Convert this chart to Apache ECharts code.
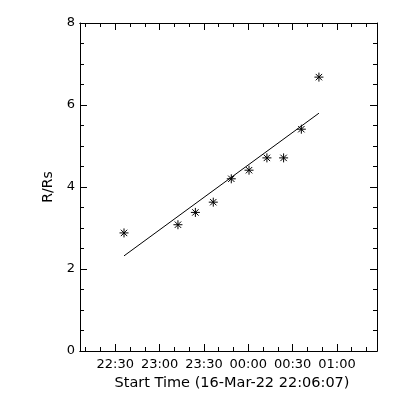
<!DOCTYPE html>
<html><head><meta charset="utf-8">
<script src="https://cdn.jsdelivr.net/npm/echarts@6/dist/echarts.min.js"></script>
<style>html,body{margin:0;padding:0;background:#fff}#c{width:400px;height:400px}</style>
</head><body><div id="c"></div>
<script>
// time in minutes after 22:00 on 16-Mar-22
const obsTimes = [35.9, 72.4, 84.2, 96.3, 108.5, 120.5, 132.6, 143.9, 155.9, 167.8];
const obsHeights = [2.88, 3.08, 3.38, 3.63, 4.20, 4.41, 4.71, 4.71, 5.41, 6.68];
const fitTimes = [35.9, 167.8];
const fitHeights = [2.32, 5.80];
const majorTickTimes = [30, 60, 90, 120, 150, 180];
const minorTickTimes = [10,20,30,40,50,60,70,80,90,100,110,120,130,140,150,160,170,180,190,200];
const xMin = 6.117, xMax = 207.1;
const yTicks = [0, 2, 4, 6, 8];

const font = 'DejaVu Sans';
function fmt(v){
  let tot = Math.round(v);
  let h = (22 + Math.floor(tot/60)) % 24, m = tot % 60;
  return String(h).padStart(2,'0') + ':' + String(m).padStart(2,'0');
}
const chart = echarts.init(document.getElementById('c'), null, {renderer:'canvas'});
function xa(pos, ticks, len, opts){
  return Object.assign({
    type:'value', position:pos, min:xMin, max:xMax,
    axisLine:{show:true, lineStyle:{color:'#000', width:1}},
    axisTick:{show:true, inside:true, length:len, customValues:ticks, lineStyle:{color:'#000'}},
    axisLabel:{show:false}, splitLine:{show:false}
  }, opts||{});
}
const option = {
  animation:false,
  backgroundColor:'#fff',
  grid:{left:80, right:23, top:23, bottom:49},
  xAxis:[
    xa('bottom', majorTickTimes, 7, {
      axisLabel:{show:true, customValues:majorTickTimes, formatter:fmt, margin:7,
        fontFamily:font, fontSize:13, color:'#000'},
      name:'Start Time (16-Mar-22 22:06:07)', nameLocation:'middle', nameGap:22,
      nameTextStyle:{fontFamily:font, fontSize:14.5, color:'#000', padding:[0,0,0,7]}
    }),
    xa('bottom', minorTickTimes, 4),
    xa('top', majorTickTimes, 7),
    xa('top', minorTickTimes, 4)
  ],
  yAxis:[
    {type:'value', position:'left', min:0, max:8, interval:2,
     axisLine:{show:true, lineStyle:{color:'#000'}},
     axisTick:{show:true, inside:true, length:7, lineStyle:{color:'#000'}},
     minorTick:{show:true, splitNumber:4, length:4, lineStyle:{color:'#000'}},
     axisLabel:{show:true, margin:5, fontFamily:font, fontSize:13, color:'#000'},
     splitLine:{show:false},
     name:'R/Rs', nameLocation:'middle', nameGap:18,
     nameTextStyle:{fontFamily:font, fontSize:14, color:'#000'}},
    {type:'value', position:'right', min:0, max:8, interval:2,
     axisLine:{show:true, lineStyle:{color:'#000'}},
     axisTick:{show:true, inside:true, length:7, lineStyle:{color:'#000'}},
     minorTick:{show:true, splitNumber:4, length:4, lineStyle:{color:'#000'}},
     axisLabel:{show:false}, splitLine:{show:false}}
  ],
  series:[
    {type:'line', xAxisIndex:0, yAxisIndex:0, showSymbol:false, symbol:'none',
     data: fitTimes.map((t,i)=>[t, fitHeights[i]]),
     lineStyle:{color:'#000', width:1}},
    {type:'scatter', xAxisIndex:0, yAxisIndex:0,
     symbol:'path://M0,-1L0,1M-1,0L1,0M-0.71,-0.71L0.71,0.71M-0.71,0.71L0.71,-0.71',
     symbolSize:9,
     itemStyle:{color:'rgba(0,0,0,0)', borderColor:'#000', borderWidth:1, opacity:1},
     data: obsTimes.map((t,i)=>[t, obsHeights[i]])}
  ]
};
chart.setOption(option);
</script></body></html>
